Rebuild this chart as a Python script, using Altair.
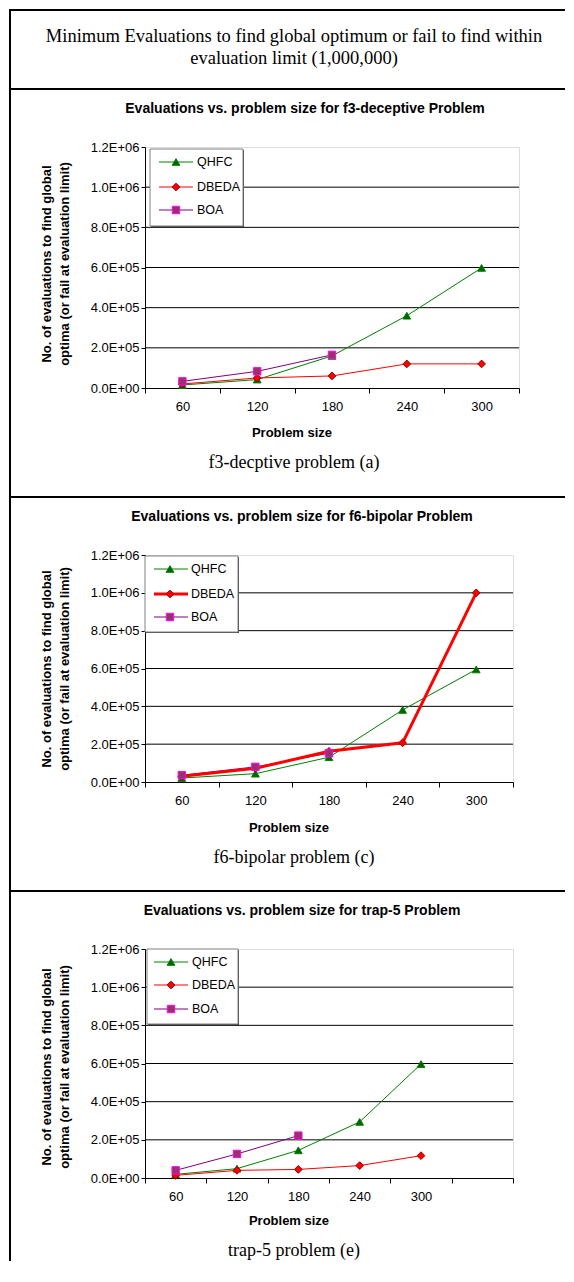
import altair as alt
import pandas as pd

# ---------------- data ----------------
sizes = ["60", "120", "180", "240", "300"]
sizes_trap = ["60", "120", "180", "240", "300", " "]
series = ["QHFC", "DBEDA", "BOA"]

f3_qhfc = [15000, 42000, 160000, 360000, 598000]
f3_dbeda = [20000, 50000, 60000, 120000, 120000]
f3_boa = [33000, 83000, 165000]

f6_qhfc = [21000, 44000, 131000, 381000, 595000]
f6_dbeda = [30000, 72000, 162000, 207000, 1000000]
f6_boa = [36000, 80000, 152000]

t5_qhfc = [19000, 49000, 145000, 294000, 597000]
t5_dbeda = [14000, 40000, 45000, 65000, 117000]
t5_boa = [40000, 126000, 222000]

y_ticks = [0, 200000, 400000, 600000, 800000, 1000000, 1200000]
y_tick_labels = ["0.0E+00", "2.0E+05", "4.0E+05", "6.0E+05", "8.0E+05", "1.0E+06", "1.2E+06"]
grid_values = [200000, 400000, 600000, 800000, 1000000]

main_title = ["Minimum Evaluations to find global optimum or fail to find within",
              "evaluation limit (1,000,000)"]
chart_titles = ["Evaluations vs. problem size for f3-deceptive Problem",
                "Evaluations vs. problem size for f6-bipolar Problem",
                "Evaluations vs. problem size for trap-5 Problem"]
captions = ["f3-decptive problem (a)", "f6-bipolar problem (c)", "trap-5 problem (e)"]
y_title = ["No. of evaluations to find global", "optima (or fail at evaluation limit)"]
x_title = "Problem size"

# ---------------- styles ----------------
SANS = "Liberation Sans"
SERIF = "Liberation Serif"
STYLE = {
    "QHFC": dict(line="#008000", shape="triangle-up", fill="#006400", stroke="#008000", size=60),
    "DBEDA": dict(line="#FF0000", shape="diamond", fill="#FF0000", stroke="#990000", size=60),
    "BOA": dict(line="#800080", shape="square", fill="#993366", stroke="#FF00FF", size=55),
}
ONE = alt.Data(values=[{}])
RIGHT = 420  # right end of table lines (relative to plot left)
LEFT = -136  # left table border (relative to plot left)

step = y_ticks[1] - y_ticks[0]
label_expr = "[" + ",".join("'%s'" % l for l in y_tick_labels) + "][round(datum.value/%d)]" % step


def rect(x1, x2, y1, y2, **kw):
    return alt.Chart(ONE).mark_rect(**kw).encode(
        x=alt.value(x1), x2=alt.value(x2), y=alt.value(y1), y2=alt.value(y2))


def text(t, x, y, size, font=SANS, bold=False, angle=None, align="center"):
    kw = dict(text=t, fontSize=size, font=font, align=align, baseline="middle", color="black")
    if bold:
        kw["fontWeight"] = "bold"
    if angle is not None:
        kw["angle"] = angle
    return alt.Chart(ONE).mark_text(**kw).encode(x=alt.value(x), y=alt.value(y))


def panel(dom, vals, width, height, g, dbeda_w=1):
    rows = []
    for name, v in zip(series, vals):
        for s, val in zip(dom, v):
            rows.append(dict(size=s, n=int(s), value=val, series=name))
    df = pd.DataFrame(rows)

    X = alt.X("size:N", sort=dom,
              scale=alt.Scale(type="band", domain=dom, paddingInner=0, paddingOuter=0),
              axis=alt.Axis(title=None, tickBand="extent", labelFontSize=13, labelFont=SANS,
                            labelColor="black", labelPadding=7, tickSize=5, tickColor="black",
                            domainColor="black", labelAngle=0, grid=False))
    Y = alt.Y("value:Q", scale=alt.Scale(domain=[0, 1200000], nice=False),
              axis=alt.Axis(title=None, values=y_ticks, labelExpr=label_expr, labelFontSize=13,
                            labelFont=SANS, labelColor="black", labelPadding=2, tickSize=4,
                            tickColor="black", domainColor="black", grid=False))

    layers = []
    grid = alt.Chart(pd.DataFrame({"value": grid_values})).mark_rule(
        color="black", strokeWidth=1).encode(y=Y)
    layers.append(grid)

    for name in ["QHFC", "BOA", "DBEDA"]:
        st = STYLE[name]
        sw = dbeda_w if name == "DBEDA" else 1
        layers.append(alt.Chart(df).transform_filter(alt.datum.series == name).mark_line(
            color=st["line"], strokeWidth=sw).encode(x=X, y=Y, order=alt.Order("n:Q")))
    for name in ["QHFC", "DBEDA", "BOA"]:
        st = STYLE[name]
        layers.append(alt.Chart(df).transform_filter(alt.datum.series == name).mark_point(
            shape=st["shape"], filled=True, color=st["fill"], stroke=st["stroke"],
            strokeWidth=1, size=st["size"], opacity=1).encode(x=X, y=Y))

    # legend
    bx1, bx2, by1, by2 = g["box"]
    layers.append(rect(bx1 + 1, bx2 + 1, by1 + 1, by2 + 1, fill="#404040"))
    layers.append(rect(bx1, bx2, by1, by2, fill="white", stroke="#808080", strokeWidth=1))
    for i, name in enumerate(series):
        st = STYLE[name]
        ly = g["ly"][i]
        sw = dbeda_w if name == "DBEDA" else 1
        layers.append(alt.Chart(ONE).mark_rule(color=st["line"], strokeWidth=sw).encode(
            x=alt.value(g["lx"][0]), x2=alt.value(g["lx"][1]), y=alt.value(ly)))
        layers.append(alt.Chart(ONE).mark_point(
            shape=st["shape"], filled=True, color=st["fill"], stroke=st["stroke"],
            strokeWidth=1, size=st["size"], opacity=1).encode(
            x=alt.value(g["mx"]), y=alt.value(ly)))
        layers.append(text(name, g["tx"], ly, 12.5, align="left"))

    # texts
    layers.append(text(g["title"], g["title_x"], -38, 14, bold=True))
    layers.append(text(y_title[0], -98, g["yt_y"], 13, bold=True, angle=270))
    layers.append(text(y_title[1], -80, g["yt_y"], 13, bold=True, angle=270))
    layers.append(text(x_title, g["xt_x"], g["xt_y"], 13, bold=True))
    layers.append(text(g["caption"], 149, g["cap_y"], 18, font=SERIF))

    # table lines
    layers.append(rect(LEFT, RIGHT, g["top"], g["top"] + 2, color="black"))
    layers.append(rect(LEFT, LEFT + 2, g["top"], g["bottom"], color="black"))
    for extra in g.get("extra", []):
        layers.append(extra)

    return alt.layer(*layers).properties(width=width, height=height)


p1 = panel(sizes, [f3_qhfc, f3_dbeda, f3_boa], 374, 241, dict(
    box=(5, 98, 2, 79), ly=[15, 40, 63], lx=(14, 48), mx=31, tx=52,
    title=chart_titles[0], title_x=160, yt_y=117, xt_x=147, xt_y=286,
    caption=captions[0], cap_y=316, top=-59, bottom=352,
    extra=[rect(LEFT, RIGHT, -138, -136, color="black"),
           rect(LEFT, LEFT + 2, -138, -57, color="black"),
           text(main_title[0], 149, -111, 18.5, font=SERIF),
           text(main_title[1], 149, -89, 18.5, font=SERIF)]))

p2 = panel(sizes, [f6_qhfc, f6_dbeda, f6_boa], 368, 227, dict(
    box=(0, 93, 1, 77), ly=[14, 39, 62], lx=(9, 43), mx=25, tx=46,
    title=chart_titles[1], title_x=157, yt_y=114, xt_x=144, xt_y=273,
    caption=captions[1], cap_y=303, top=-59, bottom=337), dbeda_w=3)

p3 = panel(sizes_trap, [t5_qhfc, t5_dbeda, t5_boa], 368, 229, dict(
    box=(2, 93, 0, 75), ly=[13, 36, 60], lx=(9, 43), mx=26, tx=47,
    title=chart_titles[2], title_x=157, yt_y=118, xt_x=144, xt_y=272,
    caption=captions[2], cap_y=302, top=-59, bottom=312))

chart = alt.vconcat(p1, p2, p3, spacing=167, bounds="flush").properties(
    padding={"left": 0, "top": 0, "right": 0, "bottom": 0}
).configure_view(stroke="#808080", strokeWidth=1).configure(background="white")

chart.save("out.html", embed_options={"renderer": "svg", "actions": False})
